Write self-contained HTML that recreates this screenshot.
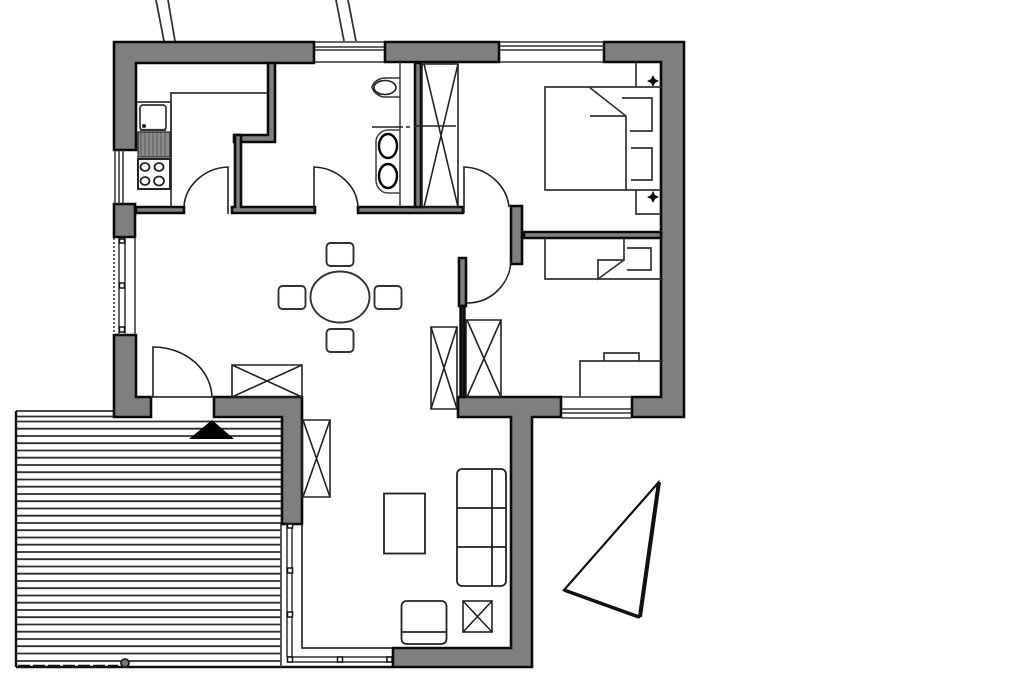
<!DOCTYPE html>
<html><head><meta charset="utf-8"><style>html,body{margin:0;padding:0;background:#fff}svg{display:block;filter:blur(0.35px)}</style></head><body>
<svg width="1024" height="683" viewBox="0 0 1024 683" xmlns="http://www.w3.org/2000/svg" fill="none" stroke-linejoin="miter">
<!-- deck -->
<g stroke="#2e2e2e" stroke-width="1.8">
<path d="M16 411H113M16 416.5H113"/>
<path d="M16 421.5H281M16 428.7H281M16 436H281M16 443.2H281M16 450.5H281M16 457.7H281M16 465H281M16 472.2H281M16 479.5H281M16 486.7H281M16 494H281M16 501.2H281M16 508.5H281M16 515.7H281M16 523H281M16 530.2H281M16 537.5H281M16 544.7H281M16 552H281M16 559.2H281M16 566.5H281M16 573.7H281M16 581H281M16 588.2H281M16 595.5H281M16 602.7H281M16 610H281M16 617.2H281M16 624.5H281M16 631.7H281M16 639H281M16 646.2H281M16 653.5H281M16 661H281"/>
</g>
<path d="M16 411V667M16 667H392" stroke="#111" stroke-width="2.4"/>
<path d="M281 524V667" stroke="#444" stroke-width="1.8"/>
<path d="M18 666H118" stroke="#111" stroke-width="2.4" stroke-dasharray="12 3"/>
<circle cx="125" cy="663" r="4" fill="#777" stroke="#222" stroke-width="1.8"/>
<!-- top lines -->
<path d="M156 0L164 41M168 0L175 41M336 0L344 41M348 0L356 41" stroke="#333" stroke-width="1.8"/>
<!-- main walls -->
<g fill="#7f7f7f" stroke="#0a0a0a" stroke-width="2.6">
<path d="M314 42H114V150H136V63H314Z"/>
<path d="M385 42H499V62H385Z"/>
<path d="M604 42H684V417H632V397H661V62H604Z"/>
<path d="M114 204H135V237H114Z"/>
<path d="M114 335H136V397H151V417H114Z"/>
<path d="M214 397H302V524H282V417H214Z"/>
<path d="M458 397H561V417H532V667H393V648H511V417H458Z"/>
<path d="M511 206H522V264H511Z"/>
<path d="M524 232H661V238H524Z"/>
<path d="M268 63H275V142H234V135H268Z"/>
<path d="M235 135H241V207H315V213H232V207H235Z"/>
<path d="M136 207H184V213H136Z"/>
<path d="M358 207H463V213H358Z"/>
<path d="M415 63H421V207H415Z"/>
<path d="M459 258H466V306H459Z"/>
</g>
<path d="M460.500 306H464.500V397H460.500Z" fill="#222" stroke="#0a0a0a" stroke-width="2.4"/>
<!-- windows -->
<g stroke="#333" stroke-width="1.5">
<path d="M315 42H384M315 47H384M315 50H384M315 62H384"/>
<path d="M500 42H604M500 46H604M500 50H604M500 62H604"/>
<path d="M562 397H631M562 409H631M562 413H631M562 418H631"/>
<path d="M115 150V204M119 150V204M123 150V204"/>
<path d="M119 238V335M125 238V335M135 238V335"/>
<path d="M114 238V335" stroke-dasharray="2 2"/>
<path d="M287 524V657M292 524V657M287 657H392M287 662H392"/>
<path d="M302 524V648H392" stroke-width="1.8"/>
<path d="M151 397H214" stroke-width="1.8"/>
</g>
<g fill="#fff" stroke="#111" stroke-width="1.5">
<rect x="119.500" y="239" width="5" height="4"/><rect x="119.500" y="283" width="5" height="5"/><rect x="119.500" y="327" width="5" height="5"/>
<rect x="287.500" y="524" width="5" height="4"/><rect x="287.500" y="568" width="5" height="5"/><rect x="287.500" y="612" width="5" height="5"/><rect x="287.500" y="657" width="5" height="5"/><rect x="337.500" y="657" width="5" height="5"/><rect x="387" y="657" width="5" height="5"/>
</g>
<!-- doors -->
<g stroke="#222" stroke-width="1.6">
<path d="M184 207C185 186 204 168 228 167V214"/>
<path d="M314 212V167C338 168 357 186 358 207"/>
<path d="M464 213V167C488 168 507 186 509 207"/>
<path d="M467 303C492 303 510 283 511 261"/>
<path d="M153 397V347C186 347 211 370 212 397"/>
</g>
<!-- kitchen -->
<g stroke="#333" stroke-width="1.7">
<path d="M171 206V93H267"/>
<path d="M137 102H171V189H137"/>
<rect x="140" y="105" width="26" height="25" rx="3"/>
<path d="M140 130H166" stroke-width="2.2"/>
</g>
<rect x="138" y="132" width="32" height="25" fill="#8a8a8a" stroke="#222" stroke-width="1.2"/>
<path d="M141 133V156M145 133V156M149 133V156M153 133V156M157 133V156M161 133V156M165 133V156" stroke="#5a5a5a" stroke-width="1"/>
<circle cx="144" cy="126" r="2" fill="#111"/>
<rect x="138" y="159" width="32" height="30" stroke="#222" stroke-width="2"/>
<g stroke="#222" stroke-width="1.8"><ellipse cx="145" cy="167" rx="4.500" ry="4"/><ellipse cx="159" cy="167" rx="4.500" ry="4"/><ellipse cx="145" cy="181" rx="4.500" ry="4"/><ellipse cx="159" cy="181" rx="5" ry="4.500"/></g>
<!-- bath -->
<path d="M400 62V207" stroke="#444" stroke-width="1.6"/>
<path d="M400 78H385C378 78 373 83 372 87C373 91 378 97 385 97H400" stroke="#333" stroke-width="1.6"/>
<ellipse cx="385" cy="87.500" rx="11" ry="7" stroke="#222" stroke-width="1.6"/>
<path d="M372 127H403M406 127H410M414 126H456" stroke="#222" stroke-width="1.4"/>
<path d="M400 130H388C381 130 376 136 376 142V180C376 187 381 193 388 193H400" stroke="#444" stroke-width="1.6"/>
<g stroke="#000" stroke-width="2.4"><ellipse cx="388" cy="146" rx="9" ry="12"/><ellipse cx="388" cy="176" rx="9" ry="12"/></g>
<!-- closets -->
<g stroke="#222" stroke-width="1.6">
<path d="M422 64H458V207H422Z"/><path d="M424 64L458 207M458 64L424 207"/>
<path d="M232 365H302V397H232Z"/><path d="M232 397L302 365M232 365L302 397"/>
<path d="M302 420H330V497H302Z"/><path d="M303 420L330 497M330 420L303 497"/>
<path d="M466 320H501V397H466Z"/><path d="M467 320L501 397M501 320L467 397"/>
<path d="M431 327H457V409H431Z"/><path d="M431 327L457 409M457 327L431 409"/>
<rect x="463" y="601" width="29" height="31"/><path d="M463 601L492 632M492 601L463 632"/>
</g>
<!-- beds -->
<g stroke="#333" stroke-width="1.7">
<path d="M661 87H545V190H661"/>
<path d="M589 87L626 116V190M590 116H626"/>
<path d="M622 98H652V131H630M631 148H652V180H631"/>
<path d="M636 63V87M636 190V214H661"/>
<path d="M545 238V279H661M624 238V260H598V279L624 260"/>
<path d="M627 248H651V270H627"/>
<path d="M661 361H580V397M604 361V353H639V361"/>
</g>
<path d="M653 75L655 79L659 81L655 83L653 87L651 83L647 81L651 79ZM653 191L655 195L659 197L655 199L653 203L651 199L647 197L651 195Z" fill="#111"/>
<!-- dining -->
<g stroke="#333" stroke-width="1.9">
<ellipse cx="340" cy="297" rx="29.500" ry="25.500"/>
<rect x="326.500" y="243" width="27" height="23" rx="4"/>
<rect x="326.500" y="329" width="27" height="23" rx="4"/>
<rect x="278.500" y="286" width="27" height="23" rx="4"/>
<rect x="374.500" y="286" width="27" height="23" rx="4"/>
</g>
<!-- living -->
<g stroke="#222" stroke-width="1.8">
<rect x="384" y="493.500" width="41" height="60"/>
<rect x="457" y="469" width="49" height="117" rx="5"/>
<path d="M457 508H506M457 547H506M492 469V586"/>
<rect x="401.500" y="601" width="45" height="43" rx="5"/>
<path d="M401.500 632H446.500"/>
</g>
<!-- entry triangle -->
<path d="M212 420L234 439H189Z" fill="#000"/>
<!-- north triangle -->
<path d="M658 483L564 590L639 617Z" stroke="#111" stroke-width="2.200"/>
<path d="M659 482L640 617" stroke="#111" stroke-width="4"/>
<path d="M564 590L639 617" stroke="#111" stroke-width="3.500"/>
</svg>
</body></html>
